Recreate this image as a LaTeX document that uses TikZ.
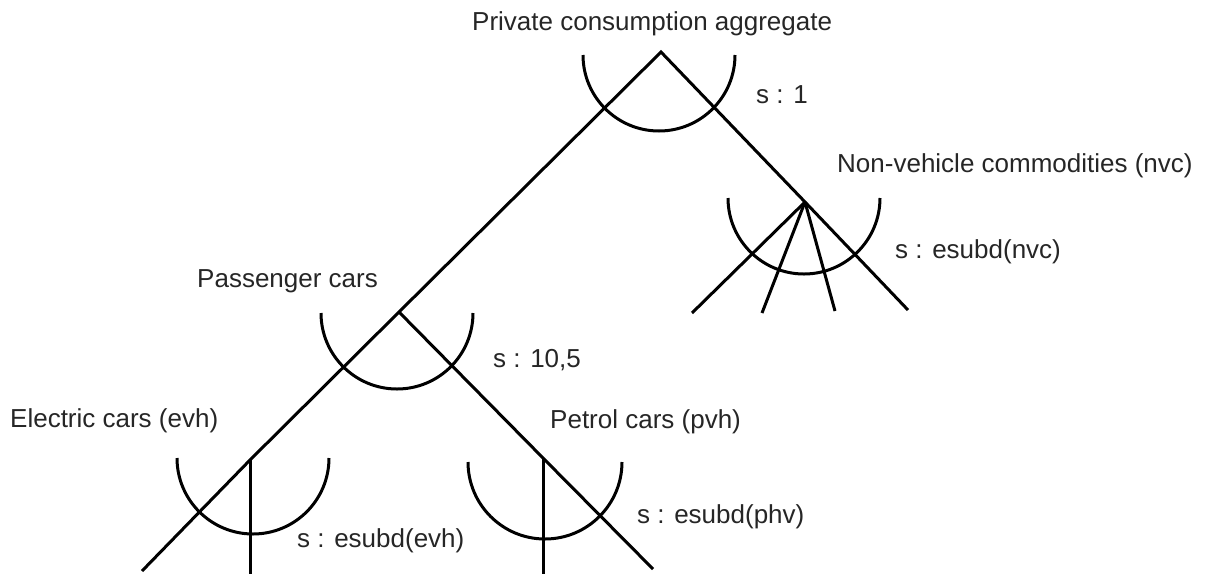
\documentclass[tikz,border=0pt]{standalone}
\usepackage{fontspec}
\setmainfont{Liberation Sans}
\begin{document}
\begin{tikzpicture}[x=1pt,y=-1pt,
  ln/.style={line width=3pt, line cap=butt, line join=miter},
  nest/.style={line width=3pt},
  lbl/.style={anchor=base west, inner sep=0pt, font=\fontsize{26}{31}\selectfont, text=black!85}]
\useasboundingbox (0,0) rectangle (1205,574);
% junctions
\coordinate (top) at (661,52);
\coordinate (pc) at (399,312);
\coordinate (nvc) at (805,202);
\coordinate (ev) at (250,460);
\coordinate (pv) at (543,458);
% free ends
\coordinate (evA) at (142,571);
\coordinate (evB) at (250,574);
\coordinate (pvA) at (543,574);
\coordinate (pvB) at (653,569);
\coordinate (n1) at (692,313);
\coordinate (n2) at (762,313);
\coordinate (n3) at (835,311);
\coordinate (n4) at (908,310);
% branches
\draw[ln] (evA) -- (ev) -- (pc) -- (top) -- (nvc) -- (n4);
\draw[ln] (pc) -- (pv) -- (pvB);
\draw[ln] (ev) -- (evB);
\draw[ln] (pv) -- (pvA);
\draw[ln] (nvc) -- (n1);
\draw[ln] (nvc) -- (n2);
\draw[ln] (nvc) -- (n3);
% nest arcs
\draw[nest] (583,55) arc[start angle=180, end angle=360, radius=76pt];
\draw[nest] (728,198) arc[start angle=180, end angle=360, radius=76pt];
\draw[nest] (321,313) arc[start angle=180, end angle=360, radius=76pt];
\draw[nest] (177,458) arc[start angle=180, end angle=360, radius=76pt];
\draw[nest] (468,462) arc[start angle=180, end angle=360, radius=77pt];
% labels
\node[lbl] (tTop) at (472,30) {Private consumption aggregate};
\node[lbl] (sTop) at (756,103) {s : 1};
\node[lbl] (tNvc) at (837,172) {Non-vehicle commodities (nvc)};
\node[lbl] (sNvc) at (895,258) {s : esubd(nvc)};
\node[lbl] (tPc) at (197,287) {Passenger cars};
\node[lbl] (sPc) at (493,367) {s : 10,5};
\node[lbl] (tEv) at (10,427) {Electric cars (evh)};
\node[lbl] (tPv) at (550,428) {Petrol cars (pvh)};
\node[lbl] (sEv) at (297,547) {s : esubd(evh)};
\node[lbl] (sPv) at (637,523) {s : esubd(phv)};
\end{tikzpicture}
\end{document}
